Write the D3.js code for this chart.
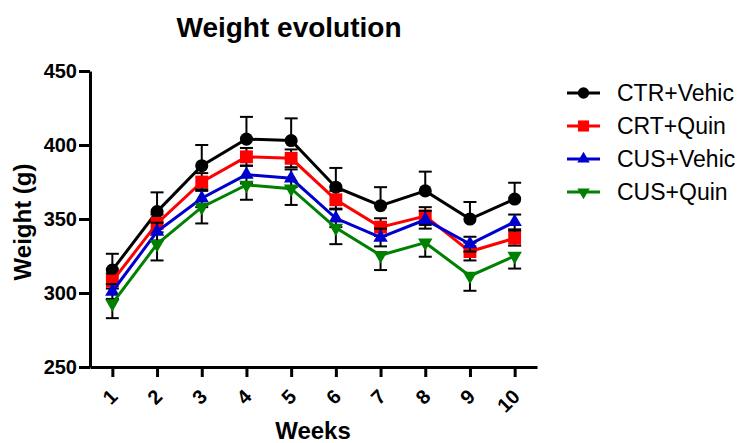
<!DOCTYPE html>
<html>
<head>
<meta charset="utf-8">
<script src="https://cdn.jsdelivr.net/npm/d3@7"></script>
<style>
  body { margin: 0; background: #fff; }
  svg { display: block; font-family: Arial, "Liberation Sans", sans-serif; }
</style>
</head>
<body>
<div id="chart"></div>
<script>
// weeks on the x axis
const weeks = [1, 2, 3, 4, 5, 6, 7, 8, 9, 10];
const yTicks = [250, 300, 350, 400, 450];

// mean weight per group (g)
const ctrVehic = [315.5, 355, 386, 404, 403, 371.5, 359, 369, 350, 363.5];
const crtQuin = [308, 347, 375, 392, 391, 363, 344.5, 352, 328, 337];
const cusVehic = [301, 341.5, 364, 380, 377.5, 350.5, 337.5, 349.5, 333, 348];
const cusQuin = [293, 333, 358, 373, 370.5, 344, 325.5, 334, 311.5, 325];

// SEM per group
const ctrVehicErr = [11, 13, 14, 15, 15, 13, 12.5, 13, 11.5, 11];
const crtQuinErr = [5, 6, 6, 6, 6, 6, 6, 6, 6, 5];
const cusVehicErr = [5, 6, 6, 6, 6, 6, 6, 6, 5, 5];
const cusQuinErr = [10, 11, 11, 10, 11, 11, 10, 9.5, 10, 8.5];

const groups = [
  { name: 'CTR+Vehic', values: ctrVehic, err: ctrVehicErr, color: '#000000', symbol: d3.symbolCircle, size: 135, rot: 0, up: true, down: false },
  { name: 'CRT+Quin', values: crtQuin, err: crtQuinErr, color: '#ff0000', symbol: d3.symbolSquare, size: 165, rot: 0, up: true, down: true },
  { name: 'CUS+Vehic', values: cusVehic, err: cusVehicErr, color: '#0000cc', symbol: d3.symbolTriangle, size: 90, rot: 0, up: true, down: true },
  { name: 'CUS+Quin', values: cusQuin, err: cusQuinErr, color: '#008000', symbol: d3.symbolTriangle, size: 90, rot: 180, up: false, down: true }
];

const width = 745, height = 443;
const svg = d3.select('#chart').append('svg')
  .attr('width', width)
  .attr('height', height);

const x = d3.scaleLinear().domain([0.5, 10.5]).range([90, 537]);
const y = d3.scaleLinear().domain([250, 450]).range([367, 71]);

// title
svg.append('text')
  .attr('x', 289).attr('y', 37)
  .attr('text-anchor', 'middle')
  .attr('font-size', 28).attr('font-weight', 'bold')
  .text('Weight evolution');

// y axis
const yAxis = svg.append('g')
  .attr('transform', `translate(${x.range()[0]},0)`)
  .call(d3.axisLeft(y).tickValues(yTicks).tickSize(11).tickPadding(2).tickSizeOuter(0));
yAxis.select('.domain').attr('stroke-width', 3);
yAxis.selectAll('.tick line').attr('stroke-width', 3);
yAxis.selectAll('.tick text')
  .attr('font-size', 20).attr('font-weight', 'bold').attr('fill', '#000')
  .attr('font-family', 'Arial, "Liberation Sans", sans-serif');

svg.append('text')
  .attr('transform', `translate(31,222) rotate(-90)`)
  .attr('text-anchor', 'middle')
  .attr('font-size', 24).attr('font-weight', 'bold')
  .text('Weight (g)');

// x axis
const xAxis = svg.append('g')
  .attr('transform', `translate(0,${y.range()[0]})`)
  .call(d3.axisBottom(x).tickValues(weeks).tickFormat(d3.format('d')).tickSize(10).tickSizeOuter(0));
xAxis.select('.domain').attr('stroke-width', 3);
xAxis.selectAll('.tick line').attr('stroke-width', 3);
xAxis.selectAll('.tick text')
  .attr('font-size', 20).attr('font-weight', 'bold').attr('fill', '#000')
  .attr('font-family', 'Arial, "Liberation Sans", sans-serif')
  .attr('text-anchor', 'end')
  .attr('y', 0).attr('dy', 0)
  .attr('transform', 'translate(6,31) rotate(-45)');

svg.append('text')
  .attr('x', 313).attr('y', 439)
  .attr('text-anchor', 'middle')
  .attr('font-size', 24).attr('font-weight', 'bold')
  .text('Weeks');

// series
const line = d3.line()
  .x((d, i) => x(weeks[i]))
  .y(d => y(d));

const plot = svg.append('g');
groups.forEach(g => {
  const s = plot.append('g');
  // error bars
  const eb = s.selectAll('g.err').data(g.values).join('g').attr('class', 'err');
  eb.append('line')
    .attr('x1', (d, i) => x(weeks[i])).attr('x2', (d, i) => x(weeks[i]))
    .attr('y1', (d, i) => y(g.down ? d - g.err[i] : d))
    .attr('y2', (d, i) => y(g.up ? d + g.err[i] : d))
    .attr('stroke', '#000').attr('stroke-width', 2);
  if (g.up) {
    eb.append('line')
      .attr('x1', (d, i) => x(weeks[i]) - 6.5).attr('x2', (d, i) => x(weeks[i]) + 6.5)
      .attr('y1', (d, i) => y(d + g.err[i])).attr('y2', (d, i) => y(d + g.err[i]))
      .attr('stroke', '#000').attr('stroke-width', 2);
  }
  if (g.down) {
    eb.append('line')
      .attr('x1', (d, i) => x(weeks[i]) - 6.5).attr('x2', (d, i) => x(weeks[i]) + 6.5)
      .attr('y1', (d, i) => y(d - g.err[i])).attr('y2', (d, i) => y(d - g.err[i]))
      .attr('stroke', '#000').attr('stroke-width', 2);
  }
  s.append('path')
    .datum(g.values)
    .attr('d', line)
    .attr('fill', 'none')
    .attr('stroke', g.color)
    .attr('stroke-width', 3);
  s.selectAll('path.pt').data(g.values).join('path')
    .attr('class', 'pt')
    .attr('d', d3.symbol(g.symbol, g.size))
    .attr('transform', (d, i) => `translate(${x(weeks[i])},${y(d)}) rotate(${g.rot})`)
    .attr('fill', g.color);
});

// legend
const legend = svg.append('g').attr('transform', 'translate(567,93)');
const item = legend.selectAll('g').data(groups).join('g')
  .attr('transform', (d, i) => `translate(0,${i * 33})`);
item.append('line')
  .attr('x1', 0).attr('x2', 33)
  .attr('stroke', d => d.color).attr('stroke-width', 3);
item.append('path')
  .attr('d', d => d3.symbol(d.symbol, d.size * 0.75)())
  .attr('transform', d => `translate(16.5,0) rotate(${d.rot})`)
  .attr('fill', d => d.color);
item.append('text')
  .attr('x', 50).attr('dy', '0.36em')
  .attr('font-size', 23)
  .text(d => d.name);
</script>
</body>
</html>
